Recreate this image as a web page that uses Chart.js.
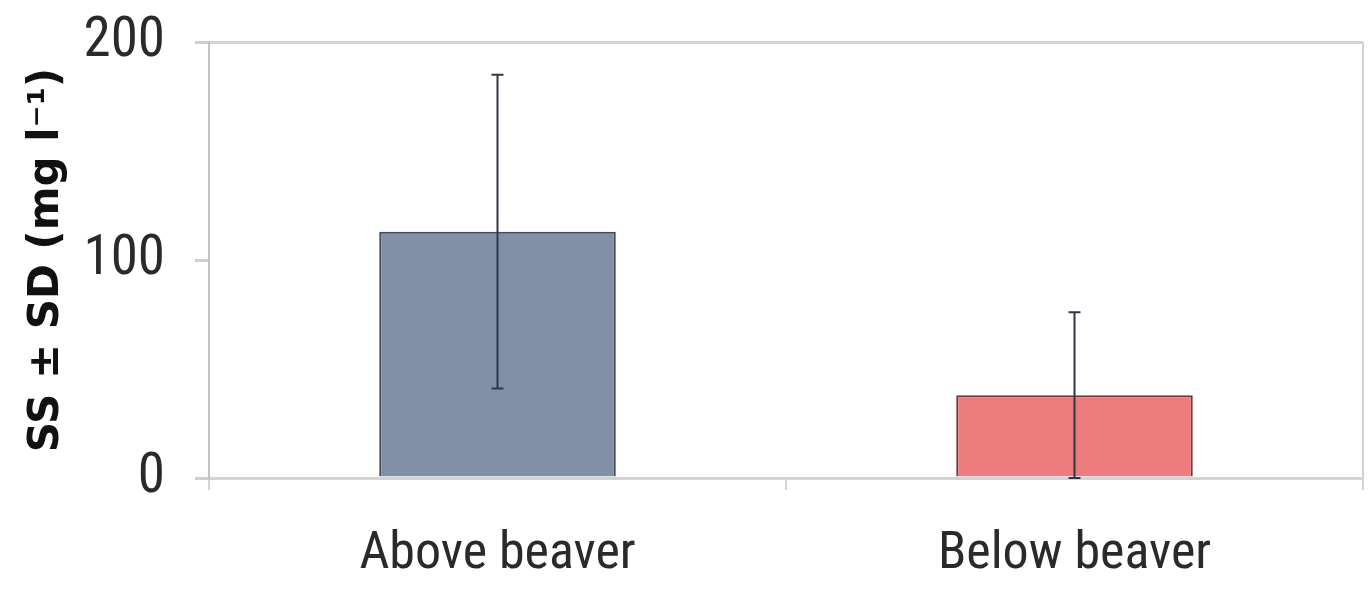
<!DOCTYPE html>
<html>
<head>
<meta charset="utf-8">
<style>
  html, body { margin: 0; padding: 0; background: #ffffff; }
  #wrap { width: 1372px; height: 591px; }
</style>
<script src="https://cdn.jsdelivr.net/npm/chart.js@4.4.1/dist/chart.umd.min.js"></script>
</head>
<body>
<div id="wrap"><canvas id="chart" width="1372" height="591"></canvas></div>
<script>
// Suspended sediment above and below the beaver dam
const categories = ['Above beaver', 'Below beaver'];
const meanSS = [113, 38];
const sdSS = [72, 38];
const yTicks = [0, 100, 200];
const barFill = ['#8190a6', '#ee7c7f'];
const barEdge = ['#3f4b5d', '#6e3a3c'];

const xTickFont = { family: '"Roboto Condensed", "Liberation Sans", sans-serif', size: 52 };
const yTickFont = { family: '"Roboto Condensed", "Liberation Sans", sans-serif', size: 55 };

// Error bars (mean ± SD) drawn through the chart's own scales
const errorBars = {
  id: 'errorBars',
  afterDatasetsDraw(chart) {
    const { ctx, scales: { y } } = chart;
    const meta = chart.getDatasetMeta(0);
    ctx.save();
    ctx.strokeStyle = '#2f3946';
    ctx.lineWidth = 2;
    meta.data.forEach((bar, i) => {
      const cx = bar.x;
      const top = y.getPixelForValue(meanSS[i] + sdSS[i]);
      const bot = y.getPixelForValue(Math.max(0, meanSS[i] - sdSS[i]));
      ctx.beginPath();
      ctx.moveTo(cx, top); ctx.lineTo(cx, bot);
      ctx.moveTo(cx - 6, top); ctx.lineTo(cx + 6, top);
      ctx.moveTo(cx - 6, bot); ctx.lineTo(cx + 6, bot);
      ctx.stroke();
    });
    ctx.restore();
  }
};

// Right-hand frame edge of the plot area
const frameRight = {
  id: 'frameRight',
  beforeDatasetsDraw(chart) {
    const { ctx, chartArea: a } = chart;
    ctx.save();
    ctx.strokeStyle = '#d2d2d2';
    ctx.lineWidth = 2;
    ctx.beginPath();
    ctx.moveTo(a.right, a.top);
    ctx.lineTo(a.right, a.bottom);
    ctx.stroke();
    ctx.restore();
  }
};

new Chart(document.getElementById('chart'), {
  type: 'bar',
  data: {
    labels: categories,
    datasets: [{
      data: meanSS,
      backgroundColor: barFill,
      borderColor: barEdge,
      borderWidth: 2,
      barPercentage: 0.82,
      categoryPercentage: 0.5
    }]
  },
  options: {
    responsive: false,
    devicePixelRatio: 1,
    animation: false,
    layout: { autoPadding: false, padding: { top: 42, right: 9, left: 0, bottom: 0 } },
    plugins: { legend: { display: false }, tooltip: { enabled: false } },
    scales: {
      x: {
        offset: true,
        grid: { offset: true, drawOnChartArea: false, drawTicks: true, tickLength: 12, color: '#d4d4d4', lineWidth: 2 },
        border: { color: '#d4d4d4', width: 3 },
        ticks: { font: xTickFont, color: '#2a2a2a', padding: 34 },
        afterFit(scale) { scale.height = 113; scale.paddingLeft = 0; scale.paddingRight = 0; }
      },
      y: {
        min: 0,
        max: 200,
        afterBuildTicks(scale) { scale.ticks = yTicks.map(v => ({ value: v })); },
        grid: {
          color: ctx => (ctx.tick && ctx.tick.value === 100) ? 'rgba(0,0,0,0)' : '#d4d4d4',
          tickColor: '#cfcfcf',
          lineWidth: 3,
          tickLength: 14
        },
        border: { color: '#c4c4c4', width: 2 },
        ticks: { font: yTickFont, color: '#2a2a2a', padding: 30 },
        title: {
          display: true,
          text: 'SS ± SD (mg l⁻¹)',
          color: '#111111',
          font: { family: '"DejaVu Sans", sans-serif', size: 42, weight: 'bold' },
          padding: { top: 22, bottom: 0 }
        },
        afterFit(scale) { scale.width = 209; scale.paddingTop = 0; scale.paddingBottom = 0; }
      }
    }
  },
  plugins: [frameRight, errorBars]
});
</script>
</body>
</html>
